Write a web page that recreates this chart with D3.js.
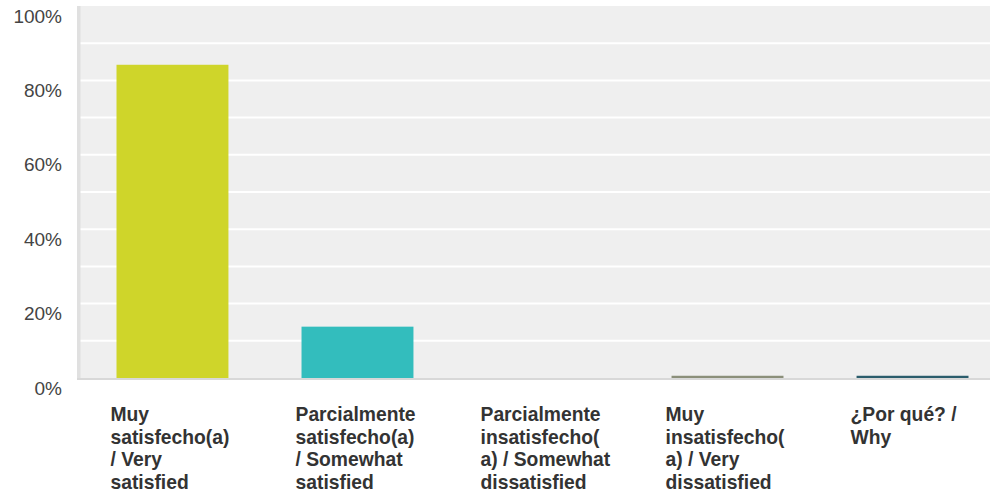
<!DOCTYPE html>
<html>
<head>
<meta charset="utf-8">
<script src="https://cdn.jsdelivr.net/npm/d3@7"></script>
<style>
    html, body { margin: 0; padding: 0; background: #fff; }
    svg { display: block; font-family: "Liberation Sans", Arial, sans-serif; }
</style>
</head>
<body>
<svg id="chart" width="990" height="503"></svg>
<script>

// Data
const categories = [
    "Muy satisfecho(a) / Very satisfied",
    "Parcialmente satisfecho(a) / Somewhat satisfied",
    "Parcialmente insatisfecho(a) / Somewhat dissatisfied",
    "Muy insatisfecho(a) / Very dissatisfied",
    "¿Por qué? / Why"
];
const values = [84.2, 13.8, 0, 0.6, 0.6];
const tickLines = [
    ["Muy", "satisfecho(a)", "/ Very", "satisfied"],
    ["Parcialmente", "satisfecho(a)", "/ Somewhat", "satisfied"],
    ["Parcialmente", "insatisfecho(", "a) / Somewhat", "dissatisfied"],
    ["Muy", "insatisfecho(", "a) / Very", "dissatisfied"],
    ["¿Por qué? /", "Why"]
];
const yTicks = [0, 20, 40, 60, 80, 100];
const gridTicks = [10, 20, 30, 40, 50, 60, 70, 80, 90];
const colors = ["#cfd52a", "#33bdbd", "#9aa0b0", "#8b8f7a", "#2b5d6c"];

// Configs
const plot = { left: 77, top: 6, right: 990, bottom: 378 };

// Scales
const x = d3.scaleBand()
    .domain(categories)
    .range([79.5, 1005.5])
    .paddingInner(0.395)
    .paddingOuter(0.2);
const y = d3.scaleLinear()
    .domain([0, 100])
    .range([plot.bottom, plot.top]);

const svg = d3.select("#chart");

// Plot background
svg.append("rect")
    .attr("x", plot.left)
    .attr("y", plot.top)
    .attr("width", plot.right - plot.left)
    .attr("height", plot.bottom - plot.top)
    .attr("fill", "#efefef");

// Grid lines
svg.append("g")
    .selectAll("line")
    .data(gridTicks)
    .join("line")
    .attr("x1", plot.left)
    .attr("x2", plot.right)
    .attr("y1", d => y(d))
    .attr("y2", d => y(d))
    .attr("stroke", "#ffffff")
    .attr("stroke-width", 2);

// Left edge
svg.append("rect")
    .attr("x", plot.left)
    .attr("y", plot.top)
    .attr("width", 3.5)
    .attr("height", plot.bottom - plot.top + 2)
    .attr("fill", "#e0e0e0");

// Bars
svg.append("g")
    .selectAll("rect")
    .data(categories)
    .join("rect")
    .attr("x", d => x(d))
    .attr("width", x.bandwidth())
    .attr("y", (d, i) => y(values[i]))
    .attr("height", (d, i) => y(0) - y(values[i]))
    .attr("fill", (d, i) => colors[i]);

// Bottom axis line
svg.append("rect")
    .attr("x", plot.left)
    .attr("y", plot.bottom)
    .attr("width", plot.right - plot.left)
    .attr("height", 2)
    .attr("fill", "#d8d8d8");

// Y labels
svg.append("g")
    .selectAll("text")
    .data(yTicks)
    .join("text")
    .attr("x", 62)
    .attr("y", d => y(d) + 16.5)
    .attr("text-anchor", "end")
    .attr("font-size", 19)
    .attr("fill", "#444444")
    .text(d => d + "%");

// X labels
const xl = svg.append("g")
    .selectAll("text")
    .data(categories)
    .join("text")
    .attr("x", d => x(d) - 6)
    .attr("y", 421)
    .attr("font-size", 19.3)
    .attr("font-weight", "bold")
    .attr("fill", "#333333");

xl.selectAll("tspan")
    .data((d, i) => tickLines[i])
    .join("tspan")
    .attr("x", function () { return d3.select(this.parentNode).attr("x"); })
    .attr("dy", (d, i) => i === 0 ? 0 : 22.5)
    .text(d => d);

</script>
</body>
</html>
